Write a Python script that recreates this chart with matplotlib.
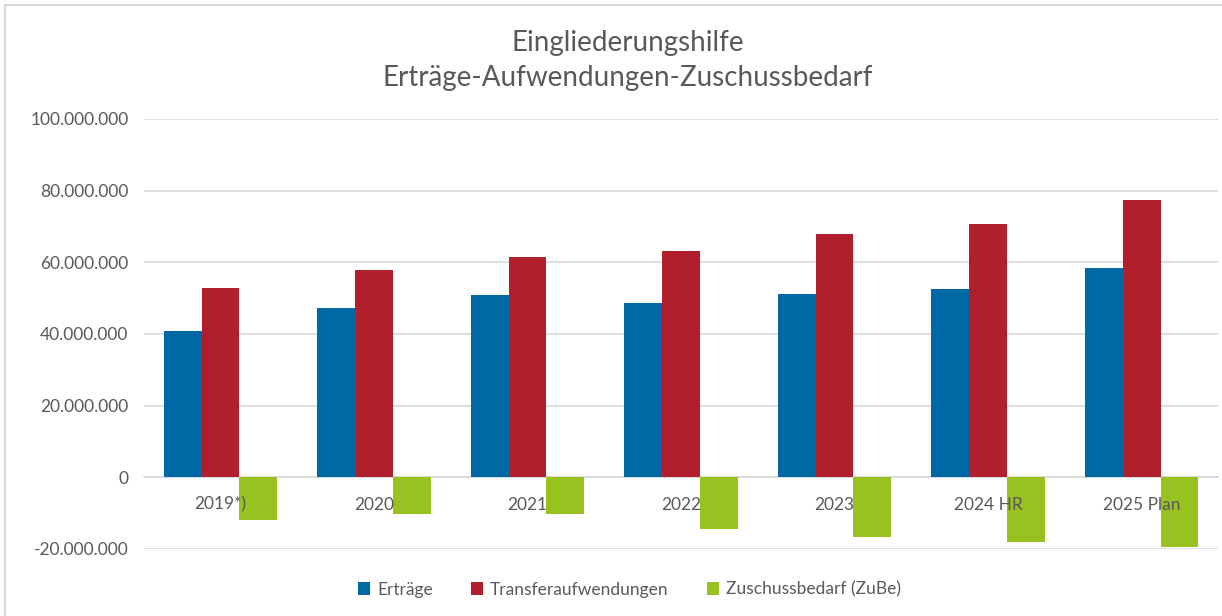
import matplotlib
matplotlib.use('Agg')
import matplotlib.pyplot as plt
from matplotlib.ticker import FuncFormatter, MultipleLocator
from matplotlib.patches import Rectangle
import numpy as np

plt.rcParams['font.family'] = ['Lato', 'DejaVu Sans']

jahre = ['2019*)', '2020', '2021', '2022', '2023', '2024 HR', '2025 Plan']
ertraege = [40.9e6, 47.3e6, 51.0e6, 48.7e6, 51.2e6, 52.6e6, 58.3e6]
transfer = [52.9e6, 57.9e6, 61.5e6, 63.1e6, 68.0e6, 70.6e6, 77.4e6]
zube = [-12.0e6, -10.3e6, -10.3e6, -14.5e6, -16.7e6, -18.0e6, -19.4e6]

c_blue = '#0068a5'
c_red = '#b01f2b'
c_green = '#98c21f'
c_text = '#595959'

fig = plt.figure(figsize=(12.22, 6.16), dpi=100)
ax = fig.add_axes([0.1176, 0.1088, 0.8794, 0.6982])

x = np.arange(len(jahre))
w = 0.247
ax.bar(x - w, ertraege, w, color=c_blue, label='Erträge', zorder=2)
ax.bar(x, transfer, w, color=c_red, label='Transferaufwendungen', zorder=2)
ax.bar(x + w, zube, w, color=c_green, label='Zuschussbedarf (ZuBe)', zorder=2)

ax.set_xlim(-0.5, len(jahre) - 0.5)
ax.set_ylim(-20e6, 100e6)
ax.yaxis.set_major_locator(MultipleLocator(20e6))
ax.yaxis.set_major_formatter(FuncFormatter(lambda v, p: f'{v:,.0f}'.replace(',', '.')))
ax.grid(axis='y', color='#d9d9d9', lw=1.2)
ax.set_axisbelow(True)
ax.xaxis.set_zorder(5)

for s in ['top', 'right', 'left']:
    ax.spines[s].set_visible(False)
ax.spines['bottom'].set_position(('data', 0))
ax.spines['bottom'].set_color('#d9d9d9')
ax.spines['bottom'].set_linewidth(1.2)
ax.spines['bottom'].set_zorder(1)

ax.set_xticks(x)
ax.set_xticklabels(jahre)
ax.tick_params(axis='x', length=0, pad=14, labelsize=12.5, labelcolor=c_text)
ax.tick_params(axis='y', length=0, pad=11, labelsize=12.5, labelcolor=c_text)

fig.text(0.514, 0.93, 'Eingliederungshilfe', ha='center', va='center',
         fontsize=20, color=c_text)
fig.text(0.514, 0.873, 'Erträge-Aufwendungen-Zuschussbedarf', ha='center',
         va='center', fontsize=20, color=c_text)

fig.legend(loc='center', bbox_to_anchor=(0.515, 0.043), ncol=3, frameon=False,
           fontsize=12.5, labelcolor=c_text, handlelength=0.7, handleheight=0.7,
           handletextpad=0.4, columnspacing=2.2)

fig.patches.append(Rectangle((0.004, -0.01), 0.998, 1.002, transform=fig.transFigure,
                             fill=False, edgecolor='#d9d9d9', lw=1.5))

fig.savefig('out.png', dpi=100)
